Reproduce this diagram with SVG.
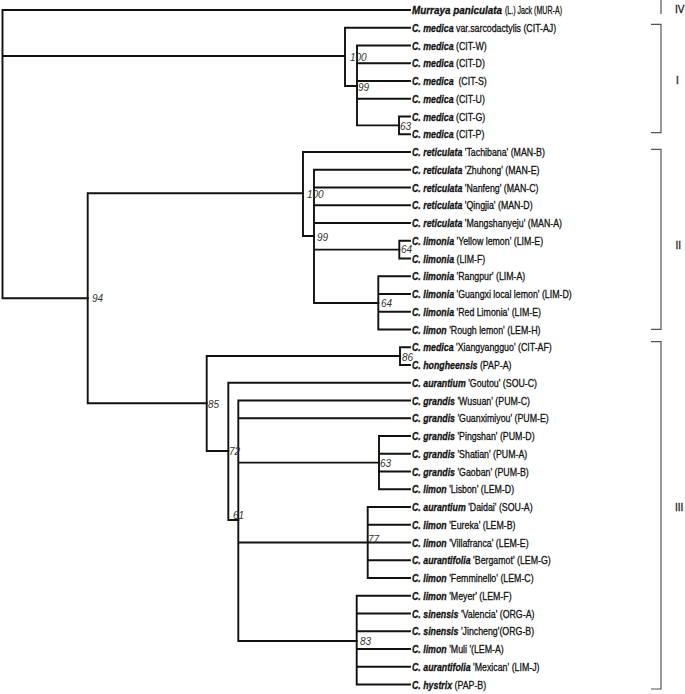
<svg xmlns="http://www.w3.org/2000/svg" width="685" height="694" viewBox="0 0 685 694">
<style>
.br{fill:none;stroke:#111;stroke-width:1.9;stroke-linecap:square}
.bk{fill:none;stroke:#555;stroke-width:1.2}
.lab{font-family:"Liberation Sans",Arial,sans-serif;font-size:11px;fill:#111;stroke:#111;stroke-width:0.3}
.sp{font-weight:bold;font-style:italic}
.bs{font-family:"Liberation Sans",Arial,sans-serif;font-size:10px;font-style:italic;fill:#333}
.cl{font-family:"Liberation Sans",Arial,sans-serif;font-size:10px;fill:#222;stroke:#222;stroke-width:0.3}
</style>
<rect width="685" height="694" fill="#fff"/>
<g id="connectors">
<path class="br" d="M2.5 10V298.3M2.5 10H410M2.5 56H345M2.5 298.3H87.7"/>
<path class="br" d="M345 27.75V86M345 27.75H410M345 86H357"/>
<path class="br" d="M357 45.5V125.4M357 45.5H410M357 63.25H410M357 81H410M357 98.75H410M357 125.4H399"/>
<path class="br" d="M399 116.5V134.25M399 116.5H410M399 134.25H410"/>
<path class="br" d="M87.7 193.3V403.3M87.7 193.3H303M87.7 403.3H206.7"/>
<path class="br" d="M303 152V236M303 152H410M303 236H314"/>
<path class="br" d="M314 169.75V303M314 169.75H410M314 187.5H410M314 205.25H410M314 223H410M314 249.6H399.3M314 303H378.3"/>
<path class="br" d="M399.3 240.75V258.5M399.3 240.75H410M399.3 258.5H410"/>
<path class="br" d="M378.3 276.25V329.5M378.3 276.25H410M378.3 294H410M378.3 311.75H410M378.3 329.5H410"/>
<path class="br" d="M206.7 356V451M206.7 356H400M206.7 451H228.3"/>
<path class="br" d="M400 347.25V365M400 347.25H410M400 365H410"/>
<path class="br" d="M228.3 382.75V520M228.3 382.75H410M228.3 520H238.3"/>
<path class="br" d="M238.3 400.5V641M238.3 400.5H410M238.3 418.25H410M238.3 462.6H379M238.3 542.5H367.7M238.3 641H356.7"/>
<path class="br" d="M379 436V489.25M379 436H410M379 453.75H410M379 471.5H410M379 489.25H410"/>
<path class="br" d="M367.7 507V578M367.7 507H410M367.7 524.75H410M367.7 542.5H410M367.7 560.25H410M367.7 578H410"/>
<path class="br" d="M356.7 595.75V684.5M356.7 595.75H410M356.7 613.5H410M356.7 631.25H410M356.7 649H410M356.7 666.75H410M356.7 684.5H410"/>
</g>
<g id="support">
<g id="n-cit100"><text class="bs" x="350" y="61">100</text></g>
<g id="n-cit99"><text class="bs" x="358" y="91">99</text></g>
<g id="n-cit63"><text class="bs" x="400" y="129.5">63</text></g>
<g id="n-ii100"><text class="bs" x="307" y="198">100</text></g>
<g id="n-ii99"><text class="bs" x="317" y="240.5">99</text></g>
<g id="n-lim64a"><text class="bs" x="401" y="253">64</text></g>
<g id="n-lim64b"><text class="bs" x="381" y="307">64</text></g>
<g id="n-94"><text class="bs" x="92" y="301.5">94</text></g>
<g id="n-86"><text class="bs" x="402" y="360.5">86</text></g>
<g id="n-85"><text class="bs" x="208" y="408">85</text></g>
<g id="n-72"><text class="bs" x="229" y="455">72</text></g>
<g id="n-63"><text class="bs" x="380" y="467">63</text></g>
<g id="n-61"><text class="bs" x="233" y="519">61</text></g>
<g id="n-77"><text class="bs" x="368" y="542.5">77</text></g>
<g id="n-83"><text class="bs" x="360" y="645">83</text></g>
</g>
<g id="leaves">
<g id="t1"><text class="lab sp" x="412" y="14" textLength="90" lengthAdjust="spacingAndGlyphs">Murraya paniculata</text><text class="lab" x="505" y="14" textLength="57" lengthAdjust="spacingAndGlyphs">(L.) Jack (MUR-A)</text></g>
<g id="t2"><text class="lab" transform="translate(412,31.75) scale(0.8,1)"><tspan class="sp">C. medica</tspan> var.sarcodactylis (CIT-AJ)</text></g>
<g id="t3"><text class="lab" transform="translate(412,49.5) scale(0.8,1)"><tspan class="sp">C. medica</tspan> (CIT-W)</text></g>
<g id="t4"><text class="lab" transform="translate(412,67.25) scale(0.8,1)"><tspan class="sp">C. medica</tspan> (CIT-D)</text></g>
<g id="t5"><text class="lab" style="white-space:pre" transform="translate(412,85) scale(0.8,1)"><tspan class="sp">C. medica</tspan>  (CIT-S)</text></g>
<g id="t6"><text class="lab" transform="translate(412,102.75) scale(0.8,1)"><tspan class="sp">C. medica</tspan> (CIT-U)</text></g>
<g id="t7"><text class="lab" transform="translate(412,120.5) scale(0.8,1)"><tspan class="sp">C. medica</tspan> (CIT-G)</text></g>
<g id="t8"><text class="lab" transform="translate(412,138.25) scale(0.8,1)"><tspan class="sp">C. medica</tspan> (CIT-P)</text></g>
<g id="t9"><text class="lab" transform="translate(412,156) scale(0.8,1)"><tspan class="sp">C. reticulata</tspan> 'Tachibana' (MAN-B)</text></g>
<g id="t10"><text class="lab" transform="translate(412,173.75) scale(0.8,1)"><tspan class="sp">C. reticulata</tspan> 'Zhuhong' (MAN-E)</text></g>
<g id="t11"><text class="lab" transform="translate(412,191.5) scale(0.8,1)"><tspan class="sp">C. reticulata</tspan> 'Nanfeng' (MAN-C)</text></g>
<g id="t12"><text class="lab" transform="translate(412,209.25) scale(0.8,1)"><tspan class="sp">C. reticulata</tspan> 'Qingjia' (MAN-D)</text></g>
<g id="t13"><text class="lab" transform="translate(412,227) scale(0.8,1)"><tspan class="sp">C. reticulata</tspan> 'Mangshanyeju' (MAN-A)</text></g>
<g id="t14"><text class="lab" transform="translate(412,244.75) scale(0.8,1)"><tspan class="sp">C. limonia</tspan> 'Yellow lemon' (LIM-E)</text></g>
<g id="t15"><text class="lab" transform="translate(412,262.5) scale(0.8,1)"><tspan class="sp">C. limonia</tspan> (LIM-F)</text></g>
<g id="t16"><text class="lab" transform="translate(412,280.25) scale(0.8,1)"><tspan class="sp">C. limonia</tspan> 'Rangpur' (LIM-A)</text></g>
<g id="t17"><text class="lab" transform="translate(412,298) scale(0.8,1)"><tspan class="sp">C. limonia</tspan> 'Guangxi local lemon' (LIM-D)</text></g>
<g id="t18"><text class="lab" transform="translate(412,315.75) scale(0.8,1)"><tspan class="sp">C. limonia</tspan> 'Red Limonia' (LIM-E)</text></g>
<g id="t19"><text class="lab" transform="translate(412,333.5) scale(0.8,1)"><tspan class="sp">C. limon</tspan> 'Rough lemon' (LEM-H)</text></g>
<g id="t20"><text class="lab" transform="translate(412,351.25) scale(0.8,1)"><tspan class="sp">C. medica</tspan> 'Xiangyangguo' (CIT-AF)</text></g>
<g id="t21"><text class="lab" transform="translate(412,369) scale(0.8,1)"><tspan class="sp">C. hongheensis</tspan> (PAP-A)</text></g>
<g id="t22"><text class="lab" transform="translate(412,386.75) scale(0.8,1)"><tspan class="sp">C. aurantium</tspan> 'Goutou' (SOU-C)</text></g>
<g id="t23"><text class="lab" transform="translate(412,404.5) scale(0.8,1)"><tspan class="sp">C. grandis</tspan> 'Wusuan' (PUM-C)</text></g>
<g id="t24"><text class="lab" transform="translate(412,422.25) scale(0.8,1)"><tspan class="sp">C. grandis</tspan> 'Guanximiyou' (PUM-E)</text></g>
<g id="t25"><text class="lab" transform="translate(412,440) scale(0.8,1)"><tspan class="sp">C. grandis</tspan> 'Pingshan' (PUM-D)</text></g>
<g id="t26"><text class="lab" transform="translate(412,457.75) scale(0.8,1)"><tspan class="sp">C. grandis</tspan> 'Shatian' (PUM-A)</text></g>
<g id="t27"><text class="lab" transform="translate(412,475.5) scale(0.8,1)"><tspan class="sp">C. grandis</tspan> 'Gaoban' (PUM-B)</text></g>
<g id="t28"><text class="lab" transform="translate(412,493.25) scale(0.8,1)"><tspan class="sp">C. limon</tspan> 'Lisbon' (LEM-D)</text></g>
<g id="t29"><text class="lab" transform="translate(412,511) scale(0.8,1)"><tspan class="sp">C. aurantium</tspan> 'Daidai' (SOU-A)</text></g>
<g id="t30"><text class="lab" transform="translate(412,528.75) scale(0.8,1)"><tspan class="sp">C. limon</tspan> 'Eureka' (LEM-B)</text></g>
<g id="t31"><text class="lab" transform="translate(412,546.5) scale(0.8,1)"><tspan class="sp">C. limon</tspan> 'Villafranca' (LEM-E)</text></g>
<g id="t32"><text class="lab" transform="translate(412,564.25) scale(0.8,1)"><tspan class="sp">C. aurantifolia</tspan> 'Bergamot' (LEM-G)</text></g>
<g id="t33"><text class="lab" transform="translate(412,582) scale(0.8,1)"><tspan class="sp">C. limon</tspan> 'Femminello' (LEM-C)</text></g>
<g id="t34"><text class="lab" transform="translate(412,599.75) scale(0.8,1)"><tspan class="sp">C. limon</tspan> 'Meyer' (LEM-F)</text></g>
<g id="t35"><text class="lab" transform="translate(412,617.5) scale(0.8,1)"><tspan class="sp">C. sinensis</tspan> 'Valencia' (ORG-A)</text></g>
<g id="t36"><text class="lab" transform="translate(412,635.25) scale(0.8,1)"><tspan class="sp">C. sinensis</tspan> 'Jincheng'(ORG-B)</text></g>
<g id="t37"><text class="lab" transform="translate(412,653) scale(0.8,1)"><tspan class="sp">C. limon</tspan> 'Muli '(LEM-A)</text></g>
<g id="t38"><text class="lab" transform="translate(412,670.75) scale(0.8,1)"><tspan class="sp">C. aurantifolia</tspan> 'Mexican' (LIM-J)</text></g>
<g id="t39"><text class="lab" transform="translate(412,688.5) scale(0.8,1)"><tspan class="sp">C. hystrix</tspan> (PAP-B)</text></g>
</g>
<g id="clades">
<g id="clade-IV"><path class="bk" d="M661 0V14"/><text class="cl" x="675" y="13">IV</text></g>
<g id="clade-I"><path class="bk" d="M651 24.3H661V132.7H651"/><text class="cl" x="676" y="83.6">I</text></g>
<g id="clade-II"><path class="bk" d="M651 149.3H661V329.3H651"/><text class="cl" x="675.5" y="248.6">II</text></g>
<g id="clade-III"><path class="bk" d="M651 341.7H661V689H651"/><text class="cl" x="675" y="510.6">III</text></g>
</g>
</svg>
